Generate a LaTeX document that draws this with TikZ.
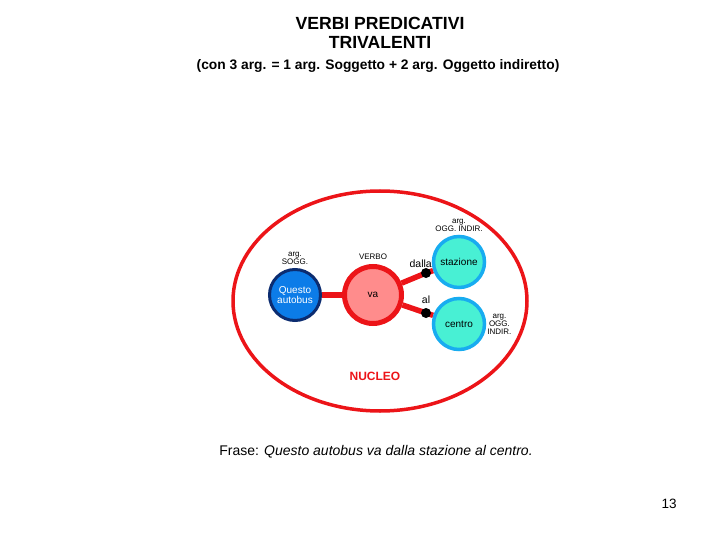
\documentclass[tikz,border=0pt]{standalone}
\usepackage{fontspec}
\setmainfont{Liberation Sans}
\usetikzlibrary{positioning,calc,backgrounds}
\definecolor{nucleored}{RGB}{236,20,24}
\definecolor{verbopink}{RGB}{255,140,140}
\definecolor{soggblue}{RGB}{12,124,232}
\definecolor{soggnavy}{RGB}{12,44,112}
\definecolor{oggaqua}{RGB}{72,240,212}
\definecolor{oggcyan}{RGB}{24,172,240}
\newcommand{\fsz}[1]{\fontsize{#1}{#1}\selectfont}
\tikzset{
    argsogg/.style={circle, draw=soggnavy, line width=3pt, fill=soggblue,
        minimum size=51pt, inner sep=0pt, text=white, align=center, font=\fsz{10}},
    verbo/.style={circle, draw=nucleored, line width=5pt, fill=verbopink,
        minimum size=57pt, inner sep=0pt, font=\fsz{10}},
    argogg/.style={circle, draw=oggcyan, line width=3.5pt, fill=oggaqua,
        minimum size=51pt, inner sep=0pt, font=\fsz{10}},
    prep/.style={circle, fill=black, minimum size=10pt, inner sep=0pt},
    legame/.style={draw=nucleored, line width=5.5pt},
    etich/.style={font=\fsz{8}, align=center, inner sep=1pt}
}
\begin{document}
\begin{tikzpicture}[x=1pt, y=-1pt]
    \useasboundingbox (0,0) rectangle (720,540);
    % --- Titolo ---
    \node[font=\bfseries\fsz{17.6}, align=center] (titolo) at (380,33) {VERBI PREDICATIVI\\[1pt]TRIVALENTI};
    \node[font=\bfseries\fsz{13.8}] (sottotitolo) at (378,66) {(con 3 arg. = 1 arg. Soggetto + 2 arg. Oggetto indiretto)};
    % --- Nucleo ---
    \draw[nucleored, line width=3.5pt] (380,301) ellipse (147pt and 110pt);
    \node[font=\bfseries\fsz{12}, text=nucleored] (nucleo) at (375,376) {NUCLEO};
    % --- Nodi ---
    \node[argsogg] (sogg) at (295,295) {Questo\\autobus};
    \node[verbo] (va) at (373,295) {va};
    \node[argogg] (staz) at (459,262) {stazione};
    \node[argogg] (centro) at (459,324) {centro};
    \node[prep] (dalla) at (426,273) {};
    \node[prep] (al) at (426,313) {};
    % Legami
    \begin{pgfonlayer}{background}
        \draw[legame] (sogg) -- (va);
        \draw[legame] (va) -- (dalla.center) -- (staz);
        \draw[legame] (va) -- (al.center) -- (centro);
    \end{pgfonlayer}
    % Etichette
    \node[etich, above=2pt of sogg] (lsogg) {arg.\\SOGG.};
    \node[etich, above=3pt of va] (lverbo) {VERBO};
    \node[etich, above=2pt of staz] (lstaz) {arg.\\OGG. INDIR.};
    \node[etich, right=0pt of centro] (lcentro) {arg.\\OGG.\\INDIR.};
    \node[font=\fsz{10.5}, above left=-2pt and -13pt of dalla] (tdalla) {dalla};
    \node[font=\fsz{10.5}, above=1pt of al] (tal) {al};
    % --- Frase ---
    \node[font=\fsz{14}] (frase) at (376,452) {Frase: \textit{Questo autobus va dalla stazione al centro.}};
    \node[font=\fsz{13.5}] (pagina) at (669,504) {13};
\end{tikzpicture}
\end{document}
